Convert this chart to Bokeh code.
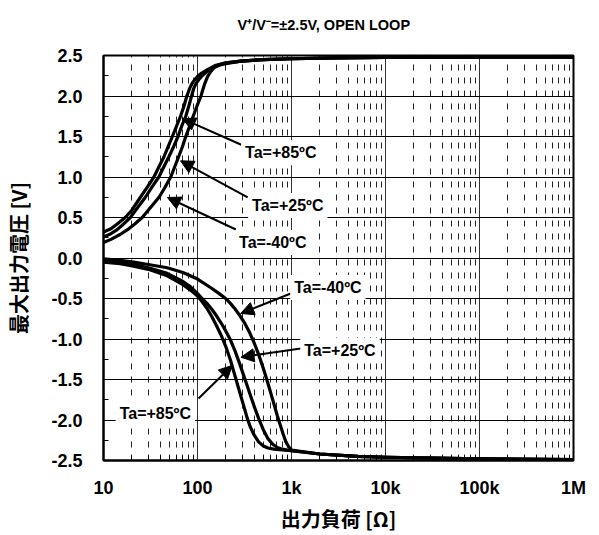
from bokeh.plotting import figure
from bokeh.models import (Range1d, FixedTicker, PrintfTickFormatter, Label, Arrow,
                          NormalHead, Title)
from bokeh.embed import file_html
from bokeh.resources import INLINE

# ---------------- data ----------------
title_text = "V⁺/V⁻=±2.5V, OPEN LOOP"
x_label = "出力負荷 [Ω]"
y_label = "最大出力電圧 [V]"

x_ticks = [10, 100, 1000, 10000, 100000, 1000000]
x_tick_labels = ["10", "100", "1k", "10k", "100k", "1M"]
y_ticks = [-2.5, -2.0, -1.5, -1.0, -0.5, 0.0, 0.5, 1.0, 1.5, 2.0, 2.5]
y_minor_ticks = [-2.25, -1.75, -1.25, -0.75, -0.25, 0.25, 0.75, 1.25, 1.75, 2.25]

# upper (positive) output, Ta=+85C
r_hi_85 = [10, 12, 14, 17, 20, 24.7, 29, 34.4, 39, 44, 49, 54, 60, 66, 72, 77, 83, 88, 93,
           100, 110, 125, 157, 200, 290, 500, 1000, 3000, 10000, 100000, 1000000]
v_hi_85 = [0.32, 0.36, 0.42, 0.50, 0.59, 0.75, 0.87, 1.00, 1.13, 1.25, 1.38, 1.50, 1.63,
           1.75, 1.88, 2.00, 2.10, 2.16, 2.20, 2.24, 2.28, 2.32, 2.38, 2.41, 2.43, 2.45,
           2.46, 2.47, 2.475, 2.48, 2.48]
# upper, Ta=+25C
r_hi_25 = [10, 12, 14, 16, 19.3, 23, 27.9, 33, 38.8, 44, 49.6, 56, 62, 68, 75, 81, 86.5, 91,
           96, 103, 112, 125, 140, 157, 200, 290, 500, 1000, 3000, 10000, 100000, 1000000]
v_hi_25 = [0.26, 0.30, 0.35, 0.41, 0.50, 0.62, 0.75, 0.88, 1.00, 1.13, 1.25, 1.38, 1.50,
           1.63, 1.75, 1.88, 2.00, 2.09, 2.15, 2.20, 2.25, 2.30, 2.34, 2.37, 2.41, 2.43,
           2.45, 2.46, 2.47, 2.475, 2.48, 2.48]
# upper, Ta=-40C
r_hi_m40 = [10, 12, 15, 18, 21.5, 25.8, 31, 39, 45, 51.9, 57, 63, 69, 75, 82, 90, 99, 109,
            114, 120, 128, 138, 150, 170, 200, 290, 500, 1000, 3000, 10000, 100000, 1000000]
v_hi_m40 = [0.19, 0.23, 0.29, 0.35, 0.42, 0.50, 0.61, 0.75, 0.87, 1.00, 1.12, 1.25, 1.37,
            1.50, 1.62, 1.75, 1.88, 2.00, 2.08, 2.16, 2.24, 2.30, 2.35, 2.38, 2.40, 2.43,
            2.45, 2.46, 2.47, 2.475, 2.48, 2.48]

# lower (negative) output, Ta=+85C
r_lo_85 = [10, 15, 20.9, 30, 47.6, 70, 85, 100, 112.2, 125.9, 141.3, 158.5, 177.8, 199.5,
           223.9, 251.2, 281.8, 316.2, 338.8, 363.1, 398.1, 446.7, 501.2, 562.3, 645.7, 800,
           1000, 2000, 5000, 10000, 100000, 1000000]
v_lo_85 = [-0.05, -0.07, -0.10, -0.14, -0.22, -0.33, -0.40, -0.47, -0.54, -0.62, -0.72,
           -0.83, -0.95, -1.09, -1.26, -1.46, -1.66, -1.86, -1.98, -2.08, -2.18, -2.27,
           -2.32, -2.345, -2.36, -2.37, -2.38, -2.42, -2.45, -2.46, -2.48, -2.49]
# lower, Ta=+25C
r_lo_25 = [10, 15, 20.9, 30, 47.6, 70, 85, 100, 112.2, 125.9, 141.3, 158.5, 177.8, 199.5,
           223.9, 251.2, 281.8, 316.2, 354.8, 398.1, 446.7, 501.2, 562.3, 631, 707.9, 794.3,
           1000, 2000, 5000, 10000, 100000, 1000000]
v_lo_25 = [-0.03, -0.05, -0.08, -0.12, -0.19, -0.29, -0.36, -0.44, -0.50, -0.56, -0.63,
           -0.71, -0.80, -0.90, -1.01, -1.15, -1.31, -1.48, -1.65, -1.82, -1.98, -2.12,
           -2.23, -2.30, -2.34, -2.36, -2.38, -2.42, -2.45, -2.46, -2.48, -2.49]
# lower, Ta=-40C
r_lo_m40 = [10, 15, 20.9, 30, 47.6, 70, 100, 140, 170, 199.5, 223.9, 251.2, 281.8, 316.2,
            354.8, 398.1, 446.7, 501.2, 562.3, 631, 707.9, 758.6, 812.8, 871, 933.3, 1000,
            2000, 5000, 10000, 100000, 1000000]
v_lo_m40 = [-0.01, -0.03, -0.05, -0.08, -0.12, -0.18, -0.26, -0.37, -0.44, -0.50, -0.56,
            -0.63, -0.71, -0.80, -0.91, -1.04, -1.19, -1.36, -1.55, -1.75, -1.95, -2.06,
            -2.17, -2.27, -2.33, -2.37, -2.42, -2.45, -2.46, -2.48, -2.49]

# annotation texts and their anchor points (data coords)
ann_text = ["Ta=+85ºC", "Ta=+25ºC", "Ta=-40ºC", "Ta=-40ºC", "Ta=+25ºC", "Ta=+85ºC"]
ann_x = [769, 913, 632, 2440, 3278, 35.6]
ann_y = [1.30, 0.648, 0.191, -0.364, -1.142, -1.92]
arrow_x0 = [340, 342, 256, 983, 1256, 102.5]
arrow_y0 = [1.364, 0.747, 0.352, -0.438, -1.117, -1.735]
arrow_x1 = [69, 66, 47.9, 288, 290, 234]
arrow_y1 = [1.72, 1.20, 0.747, -0.685, -1.225, -1.327]

# ---------------- figure ----------------
FONT = "Liberation Sans"
CJK = "Noto Sans CJK JP"

p = figure(width=599, height=535, x_axis_type="log", output_backend="svg",
           toolbar_location=None, min_border_left=103, min_border_right=26,
           min_border_top=55, min_border_bottom=75)
p.x_range = Range1d(10, 1000000)
p.y_range = Range1d(-2.5, 2.5)
p.background_fill_color = "white"
p.border_fill_color = "white"
p.outline_line_color = "black"
p.outline_line_width = 2

# spacer panel between the frame and the title (first added = closest to frame)
p.add_layout(Title(text=" ", text_font_size="8px", standoff=6.5), "above")
p.add_layout(Title(text=title_text, align="left", offset=134, standoff=10,
                   vertical_align="bottom", text_font=FONT, text_font_style="bold",
                   text_font_size="14.5px", text_color="black"), "above")

xminor = []
for dec in x_ticks[:-1]:
    xminor += [dec * k for k in range(2, 10)]
p.xaxis.ticker = FixedTicker(ticks=x_ticks, minor_ticks=xminor)
p.xaxis.major_label_overrides = {t: l for t, l in zip(x_ticks, x_tick_labels)}
p.yaxis.ticker = FixedTicker(ticks=y_ticks, minor_ticks=y_minor_ticks)
p.yaxis.formatter = PrintfTickFormatter(format="%.1f")

for ax in (p.xaxis[0], p.yaxis[0]):
    ax.axis_line_color = "black"
    ax.axis_line_width = 2
    ax.major_tick_in = 0
    ax.major_tick_out = 0
    ax.minor_tick_in = 5
    ax.minor_tick_out = 0
    ax.minor_tick_line_color = "black"
    ax.major_label_text_font = FONT
    ax.major_label_text_font_style = "bold"
    ax.major_label_text_font_size = "18px"
    ax.major_label_text_color = "black"
    ax.axis_label_text_font = CJK
    ax.axis_label_text_font_style = "bold"
    ax.axis_label_text_font_size = "20px"
    ax.axis_label_text_color = "black"

p.xaxis.axis_label = x_label
p.yaxis.axis_label = y_label
p.xaxis.major_label_standoff = 17
p.xaxis.axis_label_standoff = 3
p.yaxis.major_label_standoff = 21
p.yaxis.axis_label_standoff = 15

p.xgrid.grid_line_color = "#333333"
p.xgrid.grid_line_width = 1
p.xgrid.minor_grid_line_color = "#222222"
p.xgrid.minor_grid_line_width = 1
p.xgrid.minor_grid_line_dash = "6 7"
p.ygrid.grid_line_color = "black"
p.ygrid.grid_line_width = 1

curves = [(r_hi_85, v_hi_85), (r_hi_25, v_hi_25), (r_hi_m40, v_hi_m40),
          (r_lo_85, v_lo_85), (r_lo_25, v_lo_25), (r_lo_m40, v_lo_m40)]
for r, v in curves:
    p.line(r, v, line_color="black", line_width=3.2, line_join="round")

for i in range(len(ann_text)):
    p.add_layout(Arrow(end=NormalHead(size=13, fill_color="black", line_color="black"),
                       x_start=arrow_x0[i], y_start=arrow_y0[i],
                       x_end=arrow_x1[i], y_end=arrow_y1[i],
                       line_color="black", line_width=2))
for i in range(len(ann_text)):
    p.add_layout(Label(x=ann_x[i], y=ann_y[i], text=ann_text[i],
                       text_align="center", text_baseline="middle",
                       text_font=FONT, text_font_style="bold", text_font_size="16px",
                       text_color="black", background_fill_color="white",
                       padding=4))

open("out.html", "w").write(file_html(p, INLINE))
